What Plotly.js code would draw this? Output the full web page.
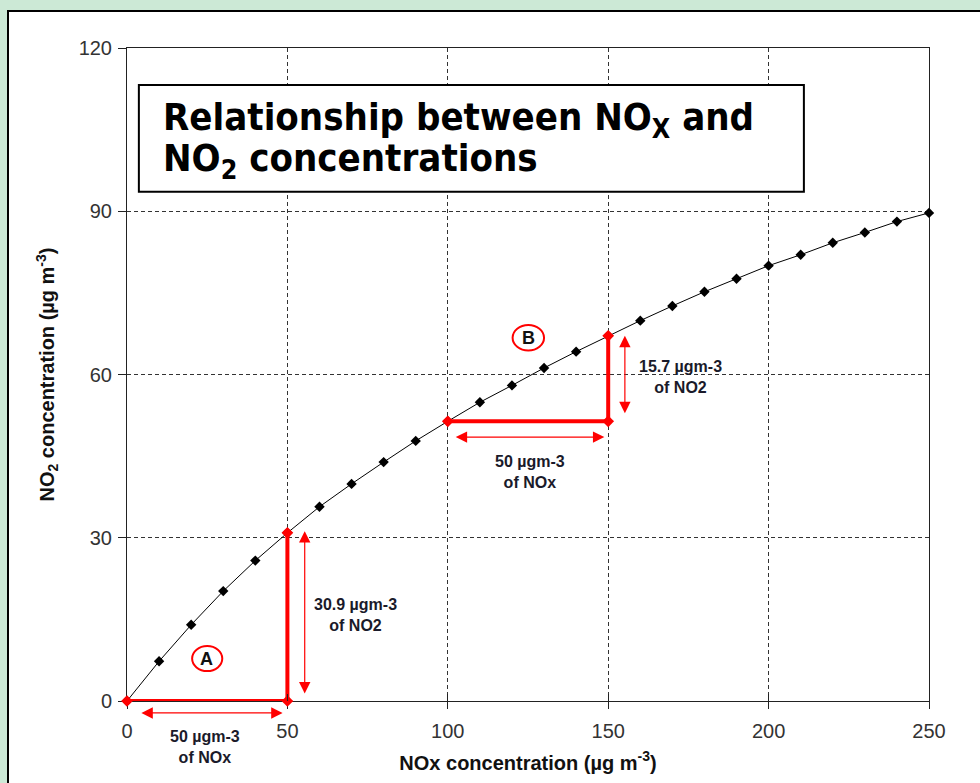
<!DOCTYPE html>
<html>
<head>
<meta charset="utf-8">
<script src="https://cdn.plot.ly/plotly-3.0.1.min.js"></script>
<style>
  html, body { margin: 0; padding: 0; width: 980px; height: 783px; overflow: hidden; background: #cce9d6; }
  #frame { position: absolute; left: 7px; top: 10px; width: 973px; height: 773px; border-left: 2px solid #000; border-top: 2px solid #000; background: #fff; }
  #plot { position: absolute; left: 0; top: 0; width: 971px; height: 771px; }
</style>
</head>
<body>
<div id="frame"><div id="plot"></div></div>
<script>
// Curve: NO2 against NOx
const noxValues = [0,10,20,30,40,50,60,70,80,90,100,110,120,130,140,150,160,170,180,190,200,210,220,230,240,250];
const no2Values = [0,7.3,14.0,20.2,25.8,30.9,35.7,39.9,43.9,47.8,51.4,54.9,58.0,61.2,64.2,67.1,69.9,72.6,75.2,77.6,80.0,82.0,84.2,86.1,88.1,89.7];

// Step A and step B (50 of NOx)
const stepAx = [0, 50, 50];
const stepAy = [0, 0, 30.9];
const stepBx = [100, 150, 150];
const stepBy = [51.4, 51.4, 67.1];

const xTicks = [0, 50, 100, 150, 200, 250];
const yTicks = [0, 30, 60, 90, 120];

const red = '#ff0000';
const labelFont = {family: 'Liberation Sans, Arial, sans-serif', size: 16, color: '#1a1a2a', weight: 'bold'};
const titleFont = {family: 'DejaVu Sans Condensed, DejaVu Sans, sans-serif', size: 38, color: '#000', weight: 'bold'};

const traces = [
  {x: noxValues, y: no2Values, type: 'scatter', mode: 'lines+markers',
   line: {color: '#000', width: 1}, marker: {symbol: 'diamond', size: 8, color: '#000'},
   cliponaxis: false},
  {x: stepAx, y: stepAy, type: 'scatter', mode: 'lines+markers',
   line: {color: red, width: 4}, marker: {symbol: 'diamond', size: 9, color: red},
   cliponaxis: false},
  {x: stepBx, y: stepBy, type: 'scatter', mode: 'lines+markers',
   line: {color: red, width: 4}, marker: {symbol: 'diamond', size: 9, color: red},
   cliponaxis: false},
  {x: [0], y: [0], xaxis: 'x2', yaxis: 'y', type: 'scatter', mode: 'markers',
   marker: {opacity: 0}, showlegend: false, hoverinfo: 'skip'}
];

const arrowStyle = {text: '', showarrow: true, arrowhead: 2, startarrowhead: 2, arrowside: 'end+start',
    arrowsize: 1.9, startarrowsize: 1.9, arrowwidth: 1.2, arrowcolor: red};
function arrow(x0, y0, x1, y1) {
  return Object.assign({x: x1, y: y1, ax: x0, ay: y0, xref: 'x', yref: 'y', axref: 'x', ayref: 'y'}, arrowStyle);
}
function label(x, y, t, yref) {
  return {x: x, y: y, xref: 'x', yref: yref || 'y', xanchor: 'center', yanchor: 'middle',
    text: t, showarrow: false, font: labelFont, align: 'center'};
}

const layout = {
  width: 971, height: 771,
  margin: {l: 118, r: 51, t: 36, b: 82},
  paper_bgcolor: '#ffffff', plot_bgcolor: '#ffffff',
  showlegend: false,
  font: {family: 'Liberation Sans, Arial, sans-serif', color: '#333'},
  xaxis: {
    range: [0, 250], tickvals: xTicks, ticktext: xTicks.map(String),
    showline: true, linecolor: '#222', linewidth: 1, mirror: true,
    ticks: 'outside', ticklen: 7, tickcolor: '#222', tickwidth: 1,
    showgrid: true, gridcolor: '#333', griddash: '4px,3px', gridwidth: 1,
    zeroline: false, layer: 'below traces', ticklabelstandoff: 5,
    tickfont: {size: 20, color: '#333'},
    title: {text: 'NOx concentration (µg m<sup>-3</sup>)', standoff: 14,
            font: {size: 20, color: '#111', weight: 'bold'}}
  },
  xaxis2: {
    range: [0, 250], overlaying: 'x', anchor: 'y', side: 'bottom',
    tickvals: xTicks, showticklabels: false, ticks: 'inside', ticklen: 7,
    tickcolor: '#222', showgrid: false, zeroline: false, showline: false
  },
  yaxis: {
    range: [0, 120], tickvals: yTicks, ticktext: yTicks.map(String),
    showline: true, linecolor: '#222', linewidth: 1, mirror: true,
    ticks: 'outside', ticklen: 8, tickcolor: '#222',
    showgrid: true, gridcolor: '#333', griddash: '4px,3px', gridwidth: 1,
    zeroline: false, layer: 'below traces', ticklabelstandoff: 2,
    tickfont: {size: 20, color: '#333'},
    title: {text: 'NO<sub>2</sub> concentration (µg m<sup>-3</sup>)', standoff: 18,
            font: {size: 20, color: '#111', weight: 'bold'}}
  },
  shapes: [
    {type: 'rect', xref: 'x', yref: 'y', x0: 3.7, x1: 211, y0: 93.6, y1: 113.2,
     line: {color: '#000', width: 2}, fillcolor: '#fff', layer: 'above'},
    {type: 'circle', xref: 'x', yref: 'y', x0: 20.3, x1: 29.7, y0: 5.5, y1: 10.1,
     line: {color: red, width: 2}, fillcolor: '#fff'},
    {type: 'circle', xref: 'x', yref: 'y', x0: 120.2, x1: 130.0, y0: 64.4, y1: 69.1,
     line: {color: red, width: 2}, fillcolor: '#fff'}
  ],
  annotations: [
    {x: 10.5, y: 106.8, xref: 'x', yref: 'y', xanchor: 'left', yanchor: 'middle', showarrow: false,
     align: 'left', text: 'Relationship between NO<sub>X</sub> and', font: titleFont},
    {x: 10.5, y: 99.4, xref: 'x', yref: 'y', xanchor: 'left', yanchor: 'middle', showarrow: false,
     align: 'left', text: 'NO<sub>2</sub> concentrations', font: titleFont},
    Object.assign({x: 48.5, y: -2.2 / 120, ax: -142.7, ay: 0, xref: 'x', yref: 'paper', axref: 'pixel', ayref: 'pixel'}, arrowStyle),
    arrow(55.4, 1.1, 55.4, 31.2),
    arrow(102, 48.5, 148.8, 48.5),
    arrow(155.2, 52.6, 155.2, 67.1),
    label(24.3, -8.5 / 120, '50 µgm-3<br>of NOx', 'paper'),
    label(71.2, 15.8, '30.9 µgm-3<br>of NO2'),
    label(125.5, 42.1, '50 µgm-3<br>of NOx'),
    label(172.5, 59.6, '15.7 µgm-3<br>of NO2'),
    {x: 24.9, y: 7.8, xref: 'x', yref: 'y', text: 'A', showarrow: false,
     font: {family: 'Liberation Sans, Arial, sans-serif', size: 18, color: '#111', weight: 'bold'}},
    {x: 125.1, y: 66.7, xref: 'x', yref: 'y', text: 'B', showarrow: false,
     font: {family: 'Liberation Sans, Arial, sans-serif', size: 18, color: '#111', weight: 'bold'}}
  ]
};

Plotly.newPlot('plot', traces, layout, {displayModeBar: false, staticPlot: true});
</script>
</body>
</html>
